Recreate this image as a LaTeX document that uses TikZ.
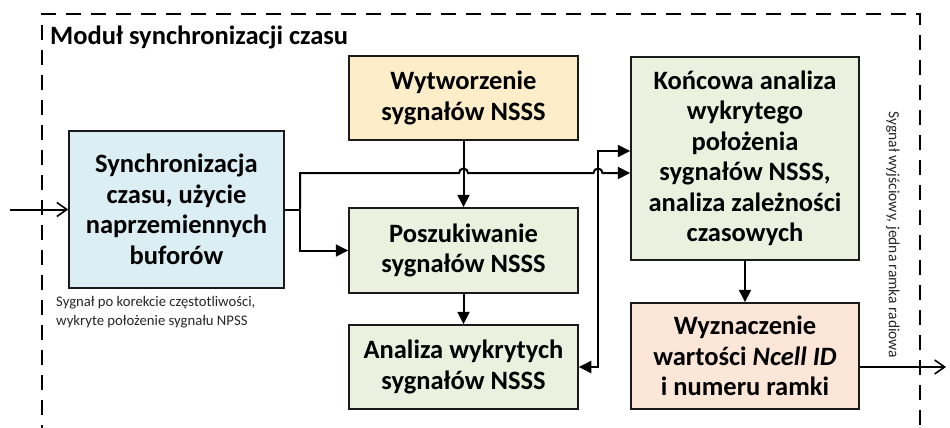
\documentclass[tikz,border=0pt]{standalone}
\usepackage{fontspec}
\setmainfont{Carlito}
\usetikzlibrary{arrows.meta,calc}
\definecolor{bluefill}{HTML}{DBEEF4}
\definecolor{yellowfill}{HTML}{FDEDC9}
\definecolor{greenfill}{HTML}{EBF1DE}
\definecolor{pinkfill}{HTML}{FCE6D8}
\definecolor{boxline}{HTML}{1A1A1A}
\definecolor{smalltext}{HTML}{262626}
\begin{document}
\begin{tikzpicture}[x=1pt,y=-1pt,
  box/.style={draw=boxline, line width=1.5pt, align=center, inner sep=0pt,
    font=\fontsize{26.5}{30.5}\selectfont\bfseries},
  wire/.style={line width=2pt, draw=black},
  conn/.style={wire, -{Triangle[length=12.5pt,width=12pt]}},
  biconn/.style={wire, {Triangle[length=12.5pt,width=12pt]}-{Triangle[length=12.5pt,width=12pt]}},
  ioarrow/.style={wire, -{Straight Barb[length=10pt,width=14pt,line width=1.6pt]}},
  frame/.style={line width=2.2pt, dash pattern=on 15pt off 10pt},
  small/.style={font=\fontsize{14.7}{19}\selectfont, text=smalltext, inner sep=0pt}]
\useasboundingbox (0,0) rectangle (950,428);
% frame
\draw[frame] (42,440) -- (42,14) -- (920,14) -- (920,440);
\node[anchor=base west, inner sep=0pt, font=\fontsize{26.5}{30.5}\selectfont\bfseries] (title) at (50,45) {Moduł synchronizacji czasu};
% boxes
\node[box, fill=bluefill, minimum width=215pt, minimum height=157pt] (A) at (176.5,209.5)
  {Synchronizacja\\czasu, użycie\\naprzemiennych\\buforów};
\node[box, fill=yellowfill, minimum width=229pt, minimum height=84pt] (B) at (463.5,98)
  {Wytworzenie\\sygnałów NSSS};
\node[box, fill=greenfill, minimum width=229pt, minimum height=85pt] (C) at (463.5,250.5)
  {Poszukiwanie\\sygnałów NSSS};
\node[box, fill=greenfill, minimum width=229pt, minimum height=84pt] (D) at (463.5,367)
  {Analiza wykrytych\\sygnałów NSSS};
\node[box, fill=greenfill, minimum width=228pt, minimum height=203pt] (E) at (745,158.5)
  {Końcowa analiza\\wykrytego\\położenia\\sygnałów NSSS,\\analiza zależności\\czasowych};
\node[box, fill=pinkfill, minimum width=228pt, minimum height=106pt] (F) at (745,356)
  {Wyznaczenie\\wartości \textit{Ncell ID}\\i numeru ramki};
% texts
\node[small, anchor=north west, align=left] (cap) at (56,296)
  {Sygnał po korekcie częstotliwości,\\wykryte położenie sygnału NPSS};
\node[small, font=\fontsize{15.5}{19}\selectfont, rotate=-90] (outlbl) at (893,235) {Sygnał wyjściowy, jedna ramka radiowa};
% coordinates
\coordinate (in) at (10,209.5);
\coordinate (out) at (946,367);
\coordinate (br) at (300,209.5);
\coordinate (brT) at (300,173);
\coordinate (j1) at (463.5,173);
\coordinate (j2) at (598,173);
\coordinate (fbT) at (598,151);
\coordinate (fbB) at (598,367);
% connectors
\draw[ioarrow] (in) -- (A.west);
\draw[ioarrow] (F.east |- out) -- (out);
\draw[wire] (A.east) -- (br);
\draw[conn] (br) |- (C.west);
\draw[conn] (br) -- (brT) -- ($(j1)+(-4.5,0)$) arc[start angle=180, end angle=360, radius=4.5]
  -- ($(j2)+(-4.5,0)$) arc[start angle=180, end angle=360, radius=4.5] -- (E.west |- brT);
\draw[conn] (B.south) -- (C.north);
\draw[conn] (C.south) -- (D.north);
\draw[conn] (E.south) -- (F.north);
\draw[biconn] (D.east) -- (fbB) -- (fbT) -- (E.west |- fbT);
\end{tikzpicture}
\end{document}
